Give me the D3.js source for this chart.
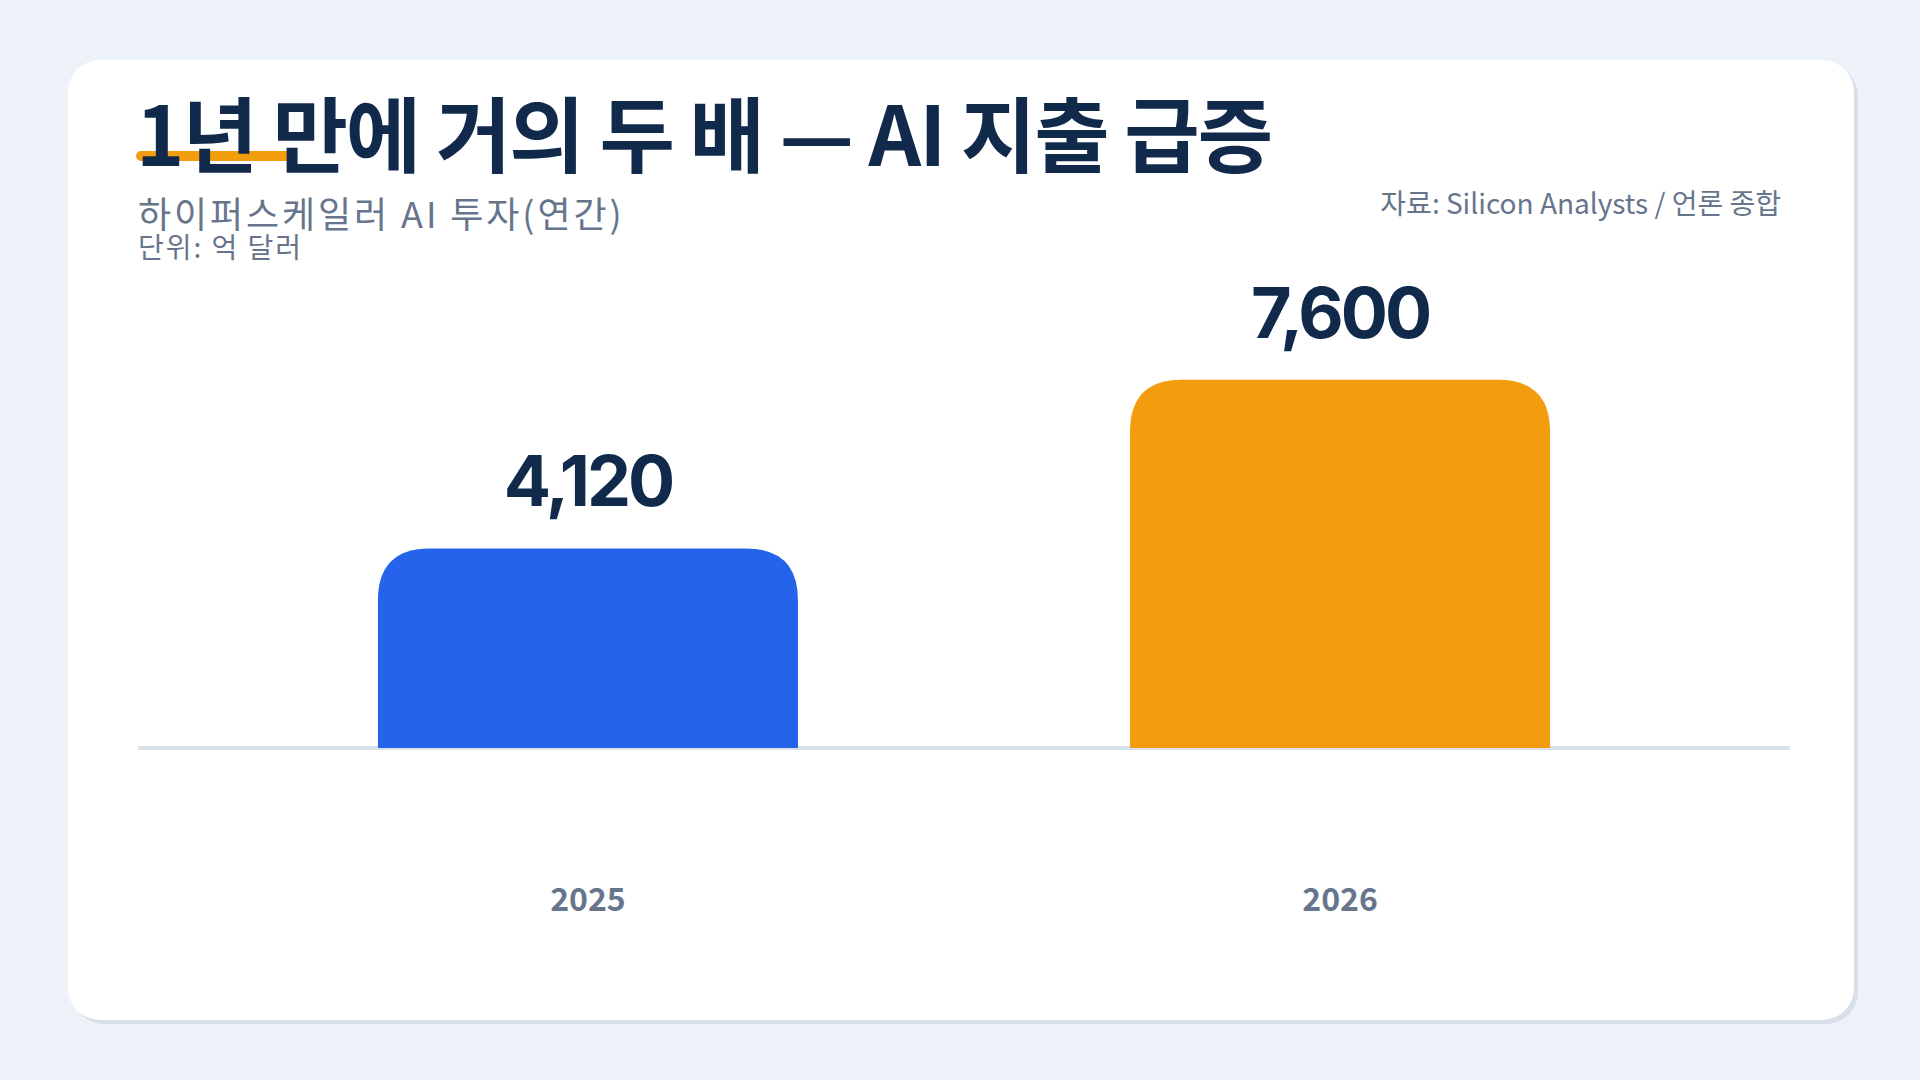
<!DOCTYPE html>
<html>
<head>
<meta charset="utf-8">
<script src="https://cdn.jsdelivr.net/npm/d3@7"></script>
<style>
  html, body { margin: 0; padding: 0; background: #edf1f8; }
  svg { display: block; }
  text { font-family: "Noto Sans CJK KR", "Noto Sans", sans-serif; }
</style>
</head>
<body>
<svg id="chart" width="1920" height="1080"></svg>
<script>
const categories = ["2025", "2026"];
const values = [4120, 7600];
const barColors = ["#2563eb", "#f39c0e"];
const title = "1년 만에 거의 두 배 — AI 지출 급증";
const subtitle = "하이퍼스케일러 AI 투자(연간)";
const unitLabel = "단위: 억 달러";
const sourceLabel = "자료: Silicon Analysts / 언론 종합";

const svg = d3.select("#chart");

// card
svg.append("rect").attr("x", 72).attr("y", 64).attr("width", 1786).attr("height", 960)
  .attr("rx", 32).attr("fill", "#d9dfe8");
svg.append("rect").attr("x", 68).attr("y", 60).attr("width", 1786).attr("height", 960)
  .attr("rx", 32).attr("fill", "#ffffff");

const margin = { left: 138, right: 1790, baseline: 748 };

// title highlight
svg.append("rect").attr("x", 136).attr("y", 151).attr("width", 156).attr("height", 10)
  .attr("rx", 5).attr("fill", "#f39c0e");

svg.append("text").attr("x", 136).attr("y", 166)
  .attr("font-size", 82).attr("font-weight", 700).attr("letter-spacing", "-2px")
  .attr("fill", "#112a4c").text(title);

svg.append("text").attr("x", 138).attr("y", 228)
  .attr("font-size", 36).attr("font-weight", 400).attr("letter-spacing", "2.9px")
  .attr("fill", "#66758c").text(subtitle);

svg.append("text").attr("x", 138).attr("y", 258)
  .attr("font-size", 28).attr("font-weight", 400).attr("letter-spacing", "2px")
  .attr("fill", "#66758c").text(unitLabel);

svg.append("text").attr("x", 1781).attr("y", 214).attr("text-anchor", "end")
  .attr("font-size", 28).attr("font-weight", 400).attr("fill", "#66758c").text(sourceLabel);

// scales
const x = d3.scaleBand().domain(categories).range([margin.left, margin.right])
  .paddingInner(0.4415).paddingOuter(0.319);
const y = d3.scaleLinear().domain([0, 8360]).range([margin.baseline, margin.baseline - 405]);

// baseline
svg.append("line").attr("x1", margin.left).attr("x2", margin.right)
  .attr("y1", margin.baseline).attr("y2", margin.baseline)
  .attr("stroke", "#d8e0e9").attr("stroke-width", 4);

function topRounded(x0, y0, w, h, r) {
  r = Math.min(r, w / 2, h);
  return `M${x0},${y0 + h}V${y0 + r}Q${x0},${y0} ${x0 + r},${y0}H${x0 + w - r}Q${x0 + w},${y0} ${x0 + w},${y0 + r}V${y0 + h}Z`;
}

const data = categories.map((c, i) => ({ c, v: values[i], color: barColors[i] }));

svg.append("g").selectAll("path").data(data).join("path")
  .attr("d", d => topRounded(x(d.c), y(d.v), x.bandwidth(), y(0) - y(d.v), 52))
  .attr("fill", d => d.color);

svg.append("g").selectAll("text").data(data).join("text")
  .attr("x", d => x(d.c) + x.bandwidth() / 2)
  .attr("y", d => y(d.v) - 42)
  .attr("text-anchor", "middle")
  .attr("font-size", 70).attr("font-weight", 700).attr("letter-spacing", "-3px")
  .style("font-family", "Inter, sans-serif")
  .attr("fill", "#112a4c")
  .text(d => d3.format(",")(d.v));

// x axis
const axis = svg.append("g").attr("transform", `translate(0,${margin.baseline})`)
  .call(d3.axisBottom(x).tickSize(0).tickPadding(140));
axis.select(".domain").remove();
axis.selectAll("text")
  .attr("font-size", 32).attr("font-weight", 700).attr("fill", "#66758c")
  .style("font-family", "\"Noto Sans CJK KR\", sans-serif");
</script>
</body>
</html>
